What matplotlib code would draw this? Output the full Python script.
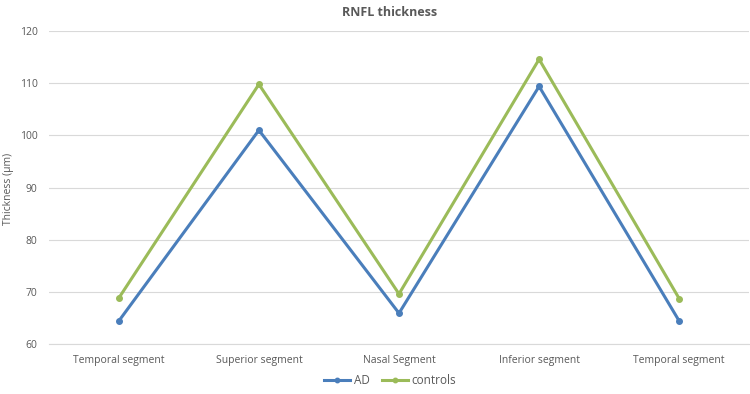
import matplotlib.pyplot as plt

segments = ['Temporal segment', 'Superior segment', 'Nasal Segment', 'Inferior segment', 'Temporal segment']
ad = [64.4, 101.0, 65.9, 109.4, 64.4]
controls = [68.8, 109.8, 69.6, 114.6, 68.7]

plt.rcParams['font.family'] = ['Open Sans', 'DejaVu Sans']
grey = '#595959'

fig = plt.figure(figsize=(7.5, 3.94), dpi=100)
ax = fig.add_axes([0.065, 0.127, 0.934, 0.794])

x = range(len(segments))
ax.plot(x, ad, color='#4a7ebb', lw=2.2, marker='o', ms=4, label='AD')
ax.plot(x, controls, color='#9bbb59', lw=2.2, marker='o', ms=4, label='controls')

ax.set_xlim(-0.5, len(segments) - 0.5)
ax.set_ylim(60, 120)
ax.set_yticks(range(60, 121, 10))
ax.set_xticks(list(x))
ax.set_xticklabels(segments)
ax.grid(axis='y', color='#d9d9d9', lw=0.8)
ax.set_axisbelow(True)
for s in ['top', 'right', 'left']:
    ax.spines[s].set_visible(False)
ax.spines['bottom'].set_color('#d9d9d9')
ax.tick_params(length=0, labelsize=7.5, colors=grey, pad=8)

# y label placed by hand so it is not clipped
fig.text(0.012, 0.52, 'Thickness (µm)', rotation=90, ha='center', va='center',
         fontsize=7.5, color=grey)
fig.text(0.52, 0.985, 'RNFL thickness', ha='center', va='top',
         fontsize=9, fontweight='bold', color=grey)

fig.legend(loc='lower center', bbox_to_anchor=(0.52, -0.01), ncol=2, frameon=False,
           fontsize=8.5, handlelength=2.2, columnspacing=1.0, handletextpad=0.3,
           labelcolor=grey, markerscale=0.8)

fig.savefig('out.png', dpi=100)
